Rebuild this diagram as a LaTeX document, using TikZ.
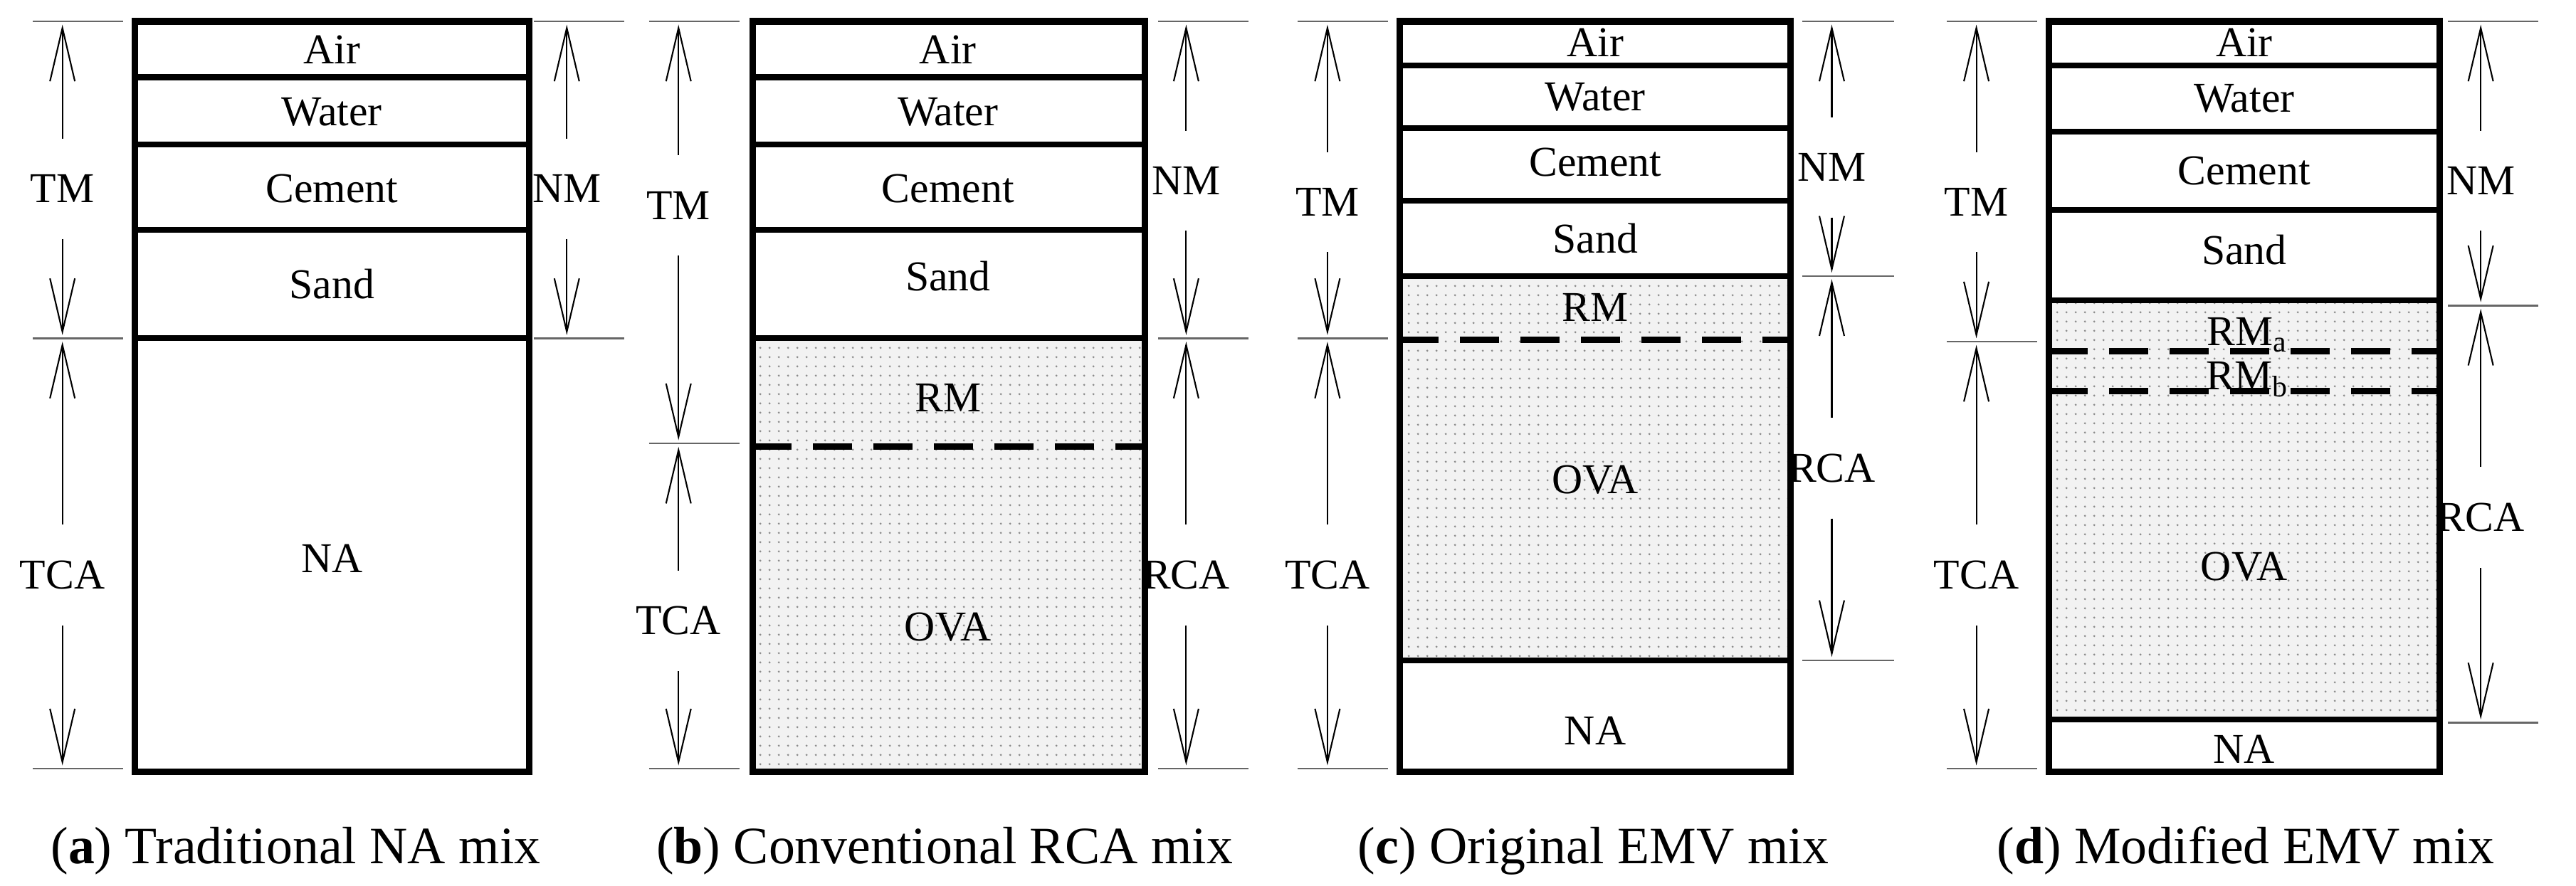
\documentclass[tikz,border=0pt]{standalone}
\usepackage{fontspec}
\setmainfont{Liberation Serif}
\usetikzlibrary{arrows.meta,patterns}
\pgfdeclarepatternformonly{sparsedots}{\pgfpointorigin}{\pgfqpoint{3.6pt}{3.6pt}}{\pgfqpoint{3.6pt}{3.6pt}}{%
  \pgfpathcircle{\pgfqpoint{1.8pt}{1.8pt}}{0.45pt}\pgfusepath{fill}}
\begin{document}
\begin{tikzpicture}[x=0.02308cm,y=-0.02308cm,
  box/.style={line width=2.6pt},
  sep/.style={line width=2.3pt},
  dsh/.style={line width=2.6pt,dash pattern=on 0.55cm off 0.3cm},
  tick/.style={line width=0.7pt,gray!80!black},
  arr/.style={line width=0.6pt,-{Straight Barb[length=0.75cm,width=0.35cm,line width=0.6pt]}},
  lab/.style={font=\fontsize{17}{20}\selectfont,inner sep=0pt},
  captxt/.style={font=\fontsize{21}{25}\selectfont,inner sep=0pt},
  agg/.style={fill=black!5,postaction={pattern=sparsedots,pattern color=gray!90}}]
\useasboundingbox (0,0) rectangle (1568,539);
\newcommand{\dimar}[8]{%
  \draw[tick] (#2,#4) -- (#3,#4);
  \draw[tick] (#2,#5) -- (#3,#5);
  \node[lab] (#8) at (#1,#6) {#7};
  \coordinate (#8t) at (#1,#4+2);
  \coordinate (#8b) at (#1,#5-2);
  \draw[arr,shorten <=0.5cm] (#8.north) -- (#8t);
  \draw[arr,shorten <=0.5cm] (#8.south) -- (#8b);}
% ---------- (a)
\draw[box] (82,13) rectangle (322,470);
\foreach \y in {47,88,140,206} \draw[sep] (82,\y) -- (322,\y);
\node[lab] (a1) at (202,30) {Air};
\node[lab] (a2) at (202,68) {Water};
\node[lab] (a3) at (202,115) {Cement};
\node[lab] (a4) at (202,173) {Sand};
\node[lab] (a5) at (202,340) {NA};
\dimar{38}{20}{75}{13}{206}{115}{TM}{atm}
\dimar{38}{20}{75}{206}{468}{350}{TCA}{atca}
\dimar{345}{325}{380}{13}{206}{115}{NM}{anm}
\node[captxt] (ca) at (180,518) {(\textbf{a}) Traditional NA mix};
% ---------- (b)
\draw[agg] (458,206) rectangle (697,470);
\draw[box] (458,13) rectangle (697,470);
\foreach \y in {47,88,140,206} \draw[sep] (458,\y) -- (697,\y);
\draw[dsh] (458,272) -- (697,272);
\node[lab] (b1) at (577,30) {Air};
\node[lab] (b2) at (577,68) {Water};
\node[lab] (b3) at (577,115) {Cement};
\node[lab] (b4) at (577,168) {Sand};
\node[lab] (b5) at (577,242) {RM};
\node[lab] (b6) at (577,382) {OVA};
\dimar{413}{395}{450}{13}{270}{125}{TM}{btm}
\dimar{413}{395}{450}{270}{468}{378}{TCA}{btca}
\dimar{722}{705}{760}{13}{206}{110}{NM}{bnm}
\dimar{722}{705}{760}{206}{468}{350}{RCA}{brca}
\node[captxt] (cb) at (575,518) {(\textbf{b}) Conventional RCA mix};
% ---------- (c)
\draw[agg] (852,168) rectangle (1090,402);
\draw[box] (852,13) rectangle (1090,470);
\foreach \y in {40,78,122,168,402} \draw[sep] (852,\y) -- (1090,\y);
\draw[dsh] (852,207) -- (1090,207);
\node[lab] (c1) at (971,26) {Air};
\node[lab] (c2) at (971,59) {Water};
\node[lab] (c3) at (971,99) {Cement};
\node[lab] (c4) at (971,145) {Sand};
\node[lab] (c5) at (971,187) {RM};
\node[lab] (c6) at (971,292) {OVA};
\node[lab] (c7) at (971,445) {NA};
\dimar{808}{790}{845}{13}{206}{123}{TM}{ctm}
\dimar{808}{790}{845}{206}{468}{350}{TCA}{ctca}
\dimar{1115}{1097}{1153}{13}{168}{102}{NM}{cnm}
\dimar{1115}{1097}{1153}{168}{402}{285}{RCA}{crca}
\node[captxt] (cc) at (970,518) {(\textbf{c}) Original EMV mix};
% ---------- (d)
\draw[agg] (1247,183) rectangle (1485,438);
\draw[box] (1247,13) rectangle (1485,470);
\foreach \y in {40,80,128,183,438} \draw[sep] (1247,\y) -- (1485,\y);
\draw[dsh] (1247,214) -- (1485,214);
\draw[dsh] (1247,238) -- (1485,238);
\node[lab] (d1) at (1366,26) {Air};
\node[lab] (d2) at (1366,60) {Water};
\node[lab] (d3) at (1366,104) {Cement};
\node[lab] (d4) at (1366,152) {Sand};
\node[lab] (d5) at (1368,204) {RM\textsubscript{a}};
\node[lab] (d6) at (1368,231) {RM\textsubscript{b}};
\node[lab] (d7) at (1366,345) {OVA};
\node[lab] (d8) at (1366,456) {NA};
\dimar{1203}{1185}{1240}{13}{208}{123}{TM}{dtm}
\dimar{1203}{1185}{1240}{208}{468}{350}{TCA}{dtca}
\dimar{1510}{1490}{1545}{13}{186}{110}{NM}{dnm}
\dimar{1510}{1490}{1545}{186}{440}{315}{RCA}{drca}
\node[captxt] (cd) at (1367,518) {(\textbf{d}) Modified EMV mix};
\end{tikzpicture}
\end{document}
